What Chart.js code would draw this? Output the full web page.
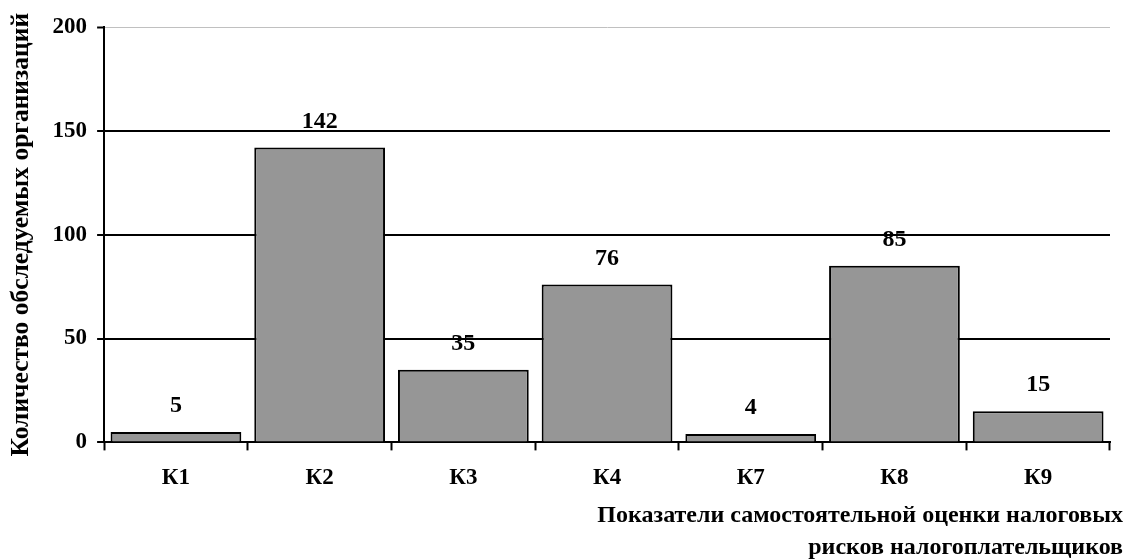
<!DOCTYPE html>
<html>
<head>
<meta charset="utf-8">
<script src="https://cdn.jsdelivr.net/npm/chart.js@4/dist/chart.umd.min.js"></script>
<style>
  html, body { margin: 0; padding: 0; background: #fff; }
  #wrap { width: 1129px; height: 560px; }
</style>
</head>
<body>
<div id="wrap"><canvas id="chart" width="1129" height="560"></canvas></div>
<script>
const categories = ['К1', 'К2', 'К3', 'К4', 'К7', 'К8', 'К9'];
const counts = [5, 142, 35, 76, 4, 85, 15];
const yTicks = [0, 50, 100, 150, 200];
const xTitleLines = ['Показатели самостоятельной оценки налоговых', 'рисков налогоплательщиков'];
const yTitle = 'Количество обследуемых организаций';

const FONT = "'Liberation Serif', 'Times New Roman', serif";

// values above bars + x axis title (right aligned, runs a bit past the plot)
const extras = {
  id: 'extras',
  afterDatasetsDraw(chart) {
    const ctx = chart.ctx;
    const meta = chart.getDatasetMeta(0);
    ctx.save();
    ctx.font = 'bold 24px ' + FONT;
    ctx.fillStyle = '#000';
    ctx.textAlign = 'center';
    ctx.textBaseline = 'middle';
    meta.data.forEach((bar, i) => {
      ctx.fillText(String(counts[i]), bar.x, bar.y - 26);
    });
    ctx.restore();
  },
  afterDraw(chart) {
    const ctx = chart.ctx;
    const area = chart.chartArea;
    ctx.save();
    ctx.font = 'bold 24px ' + FONT;
    ctx.fillStyle = '#000';
    ctx.textAlign = 'right';
    ctx.textBaseline = 'middle';
    xTitleLines.forEach((line, i) => {
      ctx.fillText(line, area.right + 13, area.bottom + 73 + i * 32);
    });
    ctx.restore();
  }
};

new Chart(document.getElementById('chart'), {
  type: 'bar',
  data: {
    labels: categories,
    datasets: [{
      data: counts,
      backgroundColor: '#969696',
      borderColor: '#000',
      borderWidth: 2,
      barPercentage: 0.91,
      categoryPercentage: 1
    }]
  },
  options: {
    responsive: false,
    animation: false,
    layout: { padding: { top: 27, right: 19, left: 4, bottom: 54 } },
    plugins: {
      legend: { display: false },
      tooltip: { enabled: false }
    },
    scales: {
      y: {
        min: 0,
        max: 200,
        afterBuildTicks: (axis) => { axis.ticks = yTicks.map(v => ({ value: v })); },
        border: { color: '#000', width: 2 },
        grid: {
          color: (c) => c.tick && c.tick.value === 200 ? '#c0c0c0' : '#000',
          lineWidth: (c) => c.tick && c.tick.value === 200 ? 1 : 2,
          tickColor: '#000',
          tickLength: 7,
          tickWidth: 2
        },
        ticks: {
          color: '#000',
          font: { family: FONT, size: 23, weight: 'bold' },
          padding: 10
        },
        title: {
          display: true,
          text: yTitle,
          color: '#000',
          font: { family: FONT, size: 25.5, weight: 'bold' },
          padding: { top: 2, bottom: 6 }
        }
      },
      x: {
        border: { color: '#000', width: 2 },
        grid: {
          offset: true,
          drawOnChartArea: false,
          tickColor: '#000',
          tickLength: 8,
          tickWidth: 2
        },
        ticks: {
          color: '#000',
          font: { family: FONT, size: 23, weight: 'bold' },
          padding: 14
        }
      }
    }
  },
  plugins: [extras]
});
</script>
</body>
</html>
